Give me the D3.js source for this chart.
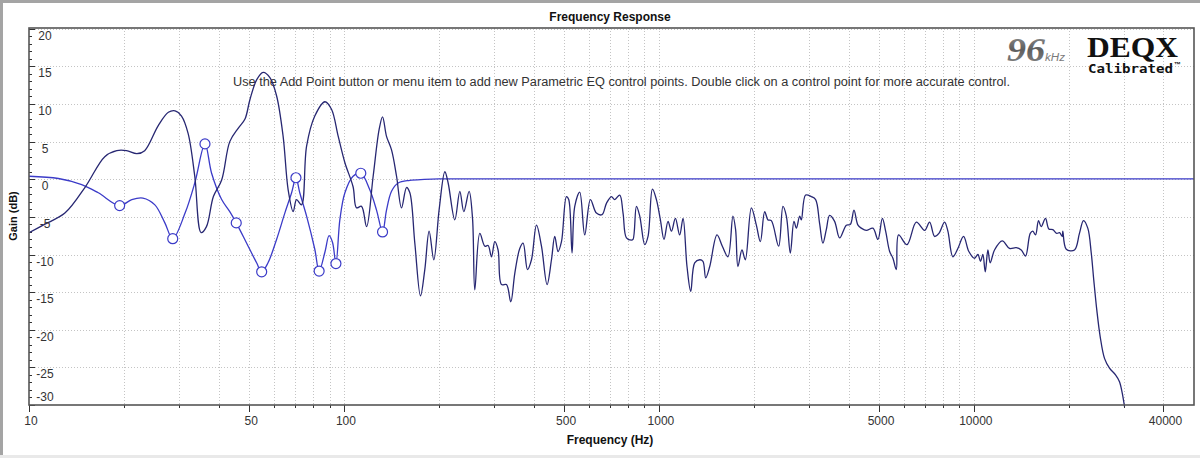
<!DOCTYPE html>
<html><head><meta charset="utf-8">
<script src="https://cdn.jsdelivr.net/npm/d3@7/dist/d3.min.js"></script>
<style>html,body{margin:0;padding:0;background:#fff;overflow:hidden}svg{display:block}</style>
</head><body>
<svg id="chart" width="1200" height="458"></svg>
<script>
// ---- data ----
const measFreq = [10,11.2,13.0,15.1,17.4,19.0,20.4,22.0,23.3,25.7,27.7,29.1,30.5,32.0,33.6,35.2,36.6,38.5,40.9,43.4,46.2,48.5,50.3,52.8,55.4,58.2,61.1,64.1,66.5,69.0,70.7,73.3,76.1,80.8,87.0,91.3,95.9,100.7,106.9,109.6,113.7,118.0,123.8,129.3,132.6,136.5,141.6,146.9,152.3,158.0,161.9,167.9,175.0,180.6,186.4,192.9,200.6,209.1,214.2,224.9,233.3,240.2,249.7,256.0,260.3,270.0,280.1,286.9,294.1,301.3,308.6,316.4,328.1,338.6,348.7,361.6,370.5,382.6,393.9,408.6,423.8,441.5,455.9,467.0,478.4,490.5,508.6,517.2,529.9,540.5,560.5,581.4,606.2,633.3,659.8,681.4,706.8,724.0,751.0,769.4,788.8,818.0,827.7,848.5,869.3,901.6,923.6,953.8,981.9,1011,1038,1069,1096,1128,1164,1193,1228,1262,1299,1348,1380,1408,1450,1529,1590,1657,1718,1752,1782,1835,1881,1966,2039,2100,2167,2220,2275,2400,2477,2539,2614,2684,2732,2798,2833,2923,3048,3145,3238,3317,3400,3484,3613,3748,3937,4054,4162,4286,4393,4556,4781,4959,5122,5247,5403,5534,5673,5768,6131,6566,6977,7236,7505,7744,8072,8270,8577,8896,9275,9641,10050,10300,10500,10680,10870,11080,11270,11630,12310,12980,13630,14140,14590,15100,15390,15700,16040,16360,16880,17300,17810,18340,18710,19080,19160,19650,20870,21640,22290,23000,23590,24030,24570,25180,25990,26960,28170,29000,29580,30080];
const measGain = [-7.1,-6.0,-4.5,-1.0,3.0,3.8,3.8,3.4,3.8,7.1,8.9,9.1,8.4,6.1,0.4,-7.1,-6.3,-2.3,-0.1,5.0,6.8,8.0,10.6,13.2,14.2,13.5,11.1,5.7,-1.4,-4.3,-2.7,-3.4,4.4,8.4,10.3,9.3,5.7,2.2,-1.0,-3.8,-3.6,-6.3,0.4,6.6,8.3,5.7,3.9,0.4,-3.8,-1.1,-1.8,-8.5,-15.5,-12.0,-6.9,-10.7,-4.0,1.0,-0.5,-5.4,-1.6,-4.3,-1.6,-5.2,-14.7,-7.2,-8.9,-8.8,-10.3,-8.3,-9.4,-14.0,-14.0,-16.3,-12.5,-9.2,-8.5,-12.0,-10.7,-6.1,-8.9,-14.0,-10.7,-7.6,-9.6,-8.3,-2.3,-2.7,-9.8,-3.6,-1.7,-7.4,-2.7,-4.5,-4.7,-3.2,-2.3,-2.7,-2.1,-4.5,-7.8,-8.1,-8.0,-3.6,-4.9,-8.7,-7.6,-1.3,-2.7,-5.4,-8.0,-5.6,-6.9,-5.2,-7.4,-5.2,-11.6,-14.9,-11.1,-10.7,-10.9,-13.1,-11.6,-7.4,-8.9,-10.3,-4.9,-6.7,-11.6,-9.4,-10.7,-3.8,-6.1,-8.3,-4.3,-5.4,-5.5,-8.9,-3.6,-4.9,-9.8,-5.6,-6.5,-4.9,-5.4,-2.1,-2.3,-2.7,-5.9,-8.5,-6.7,-4.8,-5.6,-7.8,-6.1,-6.0,-4.1,-6.1,-6.5,-6.8,-6.5,-8.0,-5.2,-6.9,-9.6,-10.5,-12.0,-7.4,-8.7,-5.7,-6.8,-5.7,-7.6,-7.2,-5.7,-6.9,-10.3,-9.2,-7.6,-9.6,-10.5,-10.0,-10.9,-10.0,-12.3,-9.4,-11.1,-9.4,-8.2,-9.2,-9.1,-9.4,-10.2,-7.2,-6.9,-7.4,-5.5,-6.3,-5.2,-6.6,-6.7,-7.2,-7.1,-7.6,-6.9,-9.3,-9.4,-7.2,-5.5,-6.5,-9.8,-13.4,-17.4,-20.9,-23.8,-25.1,-26.0,-26.9,-28.4,-30.2];

const eqFreq = [10,12.4,14.7,16.6,19.4,21.2,23.0,25.1,27.0,28.6,31.3,33.6,36.2,38.0,40.9,43.4,45.5,49.1,52.8,54.8,57.4,61.1,64.9,68.2,70.4,72.4,76.1,80.8,83.4,87.0,89.7,92.0,94.3,97.1,100.7,106.9,113.1,120.8,126.9,132.6,136.5,141.6,148.6,161.9,180,200,300,500,1000,2000,5000,10000,20000,50000];
const eqGain = [0.4,0.1,-0.7,-1.8,-3.5,-2.7,-2.5,-3.4,-5.8,-7.9,-4.5,-0.5,4.7,0.8,-2.7,-4.3,-5.8,-8.5,-11.1,-12.3,-11.1,-8.0,-4.5,-1.8,0.2,-1.8,-4.9,-9.3,-12.2,-9.7,-7.5,-8.4,-11.2,-5.3,-1.8,0.4,0.8,-1.4,-4.1,-7.0,-4.1,-1.6,-0.5,-0.15,-0.02,0.05,0.05,0.05,0.05,0.05,0.05,0.05,0.05,0.05];

const ctrlFreq = [19.4,28.6,36.2,45.5,54.8,70.4,83.4,94.3,113.1,132.6];
const ctrlGain = [-3.5,-7.9,4.7,-5.8,-12.3,0.2,-12.2,-11.2,0.8,-7.0];

const yTickValues = [-30,-25,-20,-15,-10,-5,0,5,10,15,20];
const xTickLabels = [10,50,100,500,1000,5000,10000,40000];

const titleText = "Frequency Response";
const xTitle = "Frequency (Hz)";
const yTitle = "Gain (dB)";
const noteText = "Use the Add Point button or menu item to add new Parametric EQ control points.  Double click on a control point for more accurate control.";

// ---- drawing ----
const svg = d3.select("#chart");
const L = 29, R = 1194, T = 28, B = 405;
const x = d3.scaleLog().domain([10, 50000]).range([L, R]);
const y = d3.scaleLinear().domain([-30, 20.1]).range([B, T]);
const measColor = "#272772";
const eqColor = "#3b3bc8";
const font = "'Liberation Sans', Arial, sans-serif";

// window borders
svg.append("rect").attr("x",0).attr("y",0).attr("width",1200).attr("height",458).attr("fill","#fff");
svg.append("rect").attr("x",0).attr("y",0).attr("width",1200).attr("height",3).attr("fill","#a4a4a4");
svg.append("rect").attr("x",0).attr("y",0).attr("width",3).attr("height",455).attr("fill","#a4a4a4");
svg.append("rect").attr("x",0).attr("y",455).attr("width",1200).attr("height",3).attr("fill","#e9e9e9");

// grid
const gridFreqs = x.ticks().filter(f => f > 10 && f < 50000);
svg.append("g").selectAll("line").data(gridFreqs).join("line")
  .attr("x1", d => Math.round(x(d)) + 0.5).attr("x2", d => Math.round(x(d)) + 0.5)
  .attr("y1", T).attr("y2", B)
  .attr("stroke", "#c4c4c4").attr("stroke-width", 1).attr("stroke-dasharray", "1,2");
svg.append("g").selectAll("line").data(yTickValues.filter(v => v > -30)).join("line")
  .attr("x1", L).attr("x2", R)
  .attr("y1", d => Math.round(y(d)) + 0.5).attr("y2", d => Math.round(y(d)) + 0.5)
  .attr("stroke", "#c4c4c4").attr("stroke-width", 1).attr("stroke-dasharray", "1,2");

// axis ticks
const minorY = d3.range(-30, 21, 1);
svg.append("g").selectAll("line").data(minorY).join("line")
  .attr("x1", L).attr("x2", d => L + (d % 5 === 0 ? 6 : 3))
  .attr("y1", d => Math.round(y(d)) + 0.5).attr("y2", d => Math.round(y(d)) + 0.5)
  .attr("stroke", "#333").attr("stroke-width", 1);
svg.append("g").selectAll("line").data(x.ticks().filter(f => f < 50000)).join("line")
  .attr("x1", d => Math.round(x(d)) + 0.5).attr("x2", d => Math.round(x(d)) + 0.5)
  .attr("y1", B).attr("y2", d => B + (xTickLabels.includes(d) ? 7 : 3))
  .attr("stroke", "#333").attr("stroke-width", 1);

// curves
const lineGen = d3.line().x(d => x(d[0])).y(d => y(d[1])).curve(d3.curveCatmullRom.alpha(0.5));
svg.append("clipPath").attr("id","plotclip").append("rect")
  .attr("x", L).attr("y", T).attr("width", R - L).attr("height", B - T + 2);

svg.append("text").attr("x", 233).attr("y", 86)
  .attr("font-family", font).attr("font-size", 12).attr("fill", "#333")
  .attr("textLength", 777).attr("lengthAdjust", "spacingAndGlyphs").text(noteText);

svg.append("path").datum(d3.zip(eqFreq, eqGain))
  .attr("d", lineGen).attr("fill","none").attr("stroke", eqColor).attr("stroke-width", 1.3)
  .attr("clip-path","url(#plotclip)");
svg.append("path").datum(d3.zip(measFreq, measGain))
  .attr("d", lineGen).attr("fill","none").attr("stroke", measColor).attr("stroke-width", 1.3)
  .attr("clip-path","url(#plotclip)");

svg.append("g").selectAll("circle").data(d3.zip(ctrlFreq, ctrlGain)).join("circle")
  .attr("cx", d => x(d[0])).attr("cy", d => y(d[1])).attr("r", 5)
  .attr("fill", "#fff").attr("stroke", eqColor).attr("stroke-width", 1.2);

// frame
svg.append("rect").attr("x", L).attr("y", T).attr("width", R - L).attr("height", B - T)
  .attr("fill","none").attr("stroke","#555").attr("stroke-width", 1.6);

// y tick labels (inside plot)
svg.append("g").selectAll("text").data(yTickValues).join("text")
  .attr("x", 45).attr("y", d => d === -30 ? y(d) - 8 : y(d) + 7)
  .attr("dominant-baseline", "central").attr("text-anchor", "middle")
  .attr("font-family", font).attr("font-size", 12).attr("fill", "#333")
  .text(d => d);

// x tick labels
svg.append("g").selectAll("text").data(xTickLabels).join("text")
  .attr("x", d => x(d) + 2).attr("y", 425)
  .attr("text-anchor", "middle")
  .attr("font-family", font).attr("font-size", 12).attr("fill", "#333")
  .text(d => d);

// titles
svg.append("text").attr("x", 610).attr("y", 21).attr("text-anchor","middle")
  .attr("font-family", font).attr("font-size", 12).attr("font-weight","bold").attr("fill","#111")
  .text(titleText);
svg.append("text").attr("x", 610).attr("y", 444).attr("text-anchor","middle")
  .attr("font-family", font).attr("font-size", 12).attr("font-weight","bold").attr("fill","#111")
  .text(xTitle);
svg.append("text").attr("transform","translate(17,216) rotate(-90)").attr("text-anchor","middle")
  .attr("font-family", font).attr("font-size", 11).attr("font-weight","bold").attr("fill","#111")
  .text(yTitle);

// logo
const defs = svg.append("defs");
const grad = defs.append("linearGradient").attr("id","g96").attr("x1","0").attr("y1","0").attr("x2","0").attr("y2","1");
grad.append("stop").attr("offset","0").attr("stop-color","#9a9a9a");
grad.append("stop").attr("offset","0.5").attr("stop-color","#5e5e5e");
grad.append("stop").attr("offset","1").attr("stop-color","#8a8a8a");
svg.append("text").attr("x", 1007).attr("y", 61)
  .attr("font-family","'Liberation Serif', 'DejaVu Serif', serif").attr("font-style","italic").attr("font-weight","bold")
  .attr("font-size", 34).attr("fill","url(#g96)").attr("textLength", 38).attr("lengthAdjust","spacingAndGlyphs").text("96");
svg.append("text").attr("x", 1045).attr("y", 61)
  .attr("font-family","'Liberation Sans', Arial, sans-serif").attr("font-style","italic")
  .attr("font-size", 10).attr("fill","#7a7a7a").attr("textLength", 20).attr("lengthAdjust","spacingAndGlyphs").text("kHz");
svg.append("text").attr("x", 1087).attr("y", 57)
  .attr("font-family","'Liberation Serif', 'DejaVu Serif', serif").attr("font-weight","bold")
  .attr("font-size", 30).attr("fill","#111").attr("textLength", 91).attr("lengthAdjust","spacingAndGlyphs").text("DEQX");
svg.append("text").attr("x", 1088).attr("y", 73)
  .attr("font-family","'DejaVu Sans Mono', 'Liberation Mono', monospace").attr("font-weight","bold")
  .attr("font-size", 13).attr("fill","#111").attr("textLength", 85).attr("lengthAdjust","spacingAndGlyphs").text("Calibrated");
svg.append("text").attr("x", 1174).attr("y", 67)
  .attr("font-family", font).attr("font-weight","bold")
  .attr("font-size", 7).attr("fill","#111").text("™");
</script>
</body></html>
